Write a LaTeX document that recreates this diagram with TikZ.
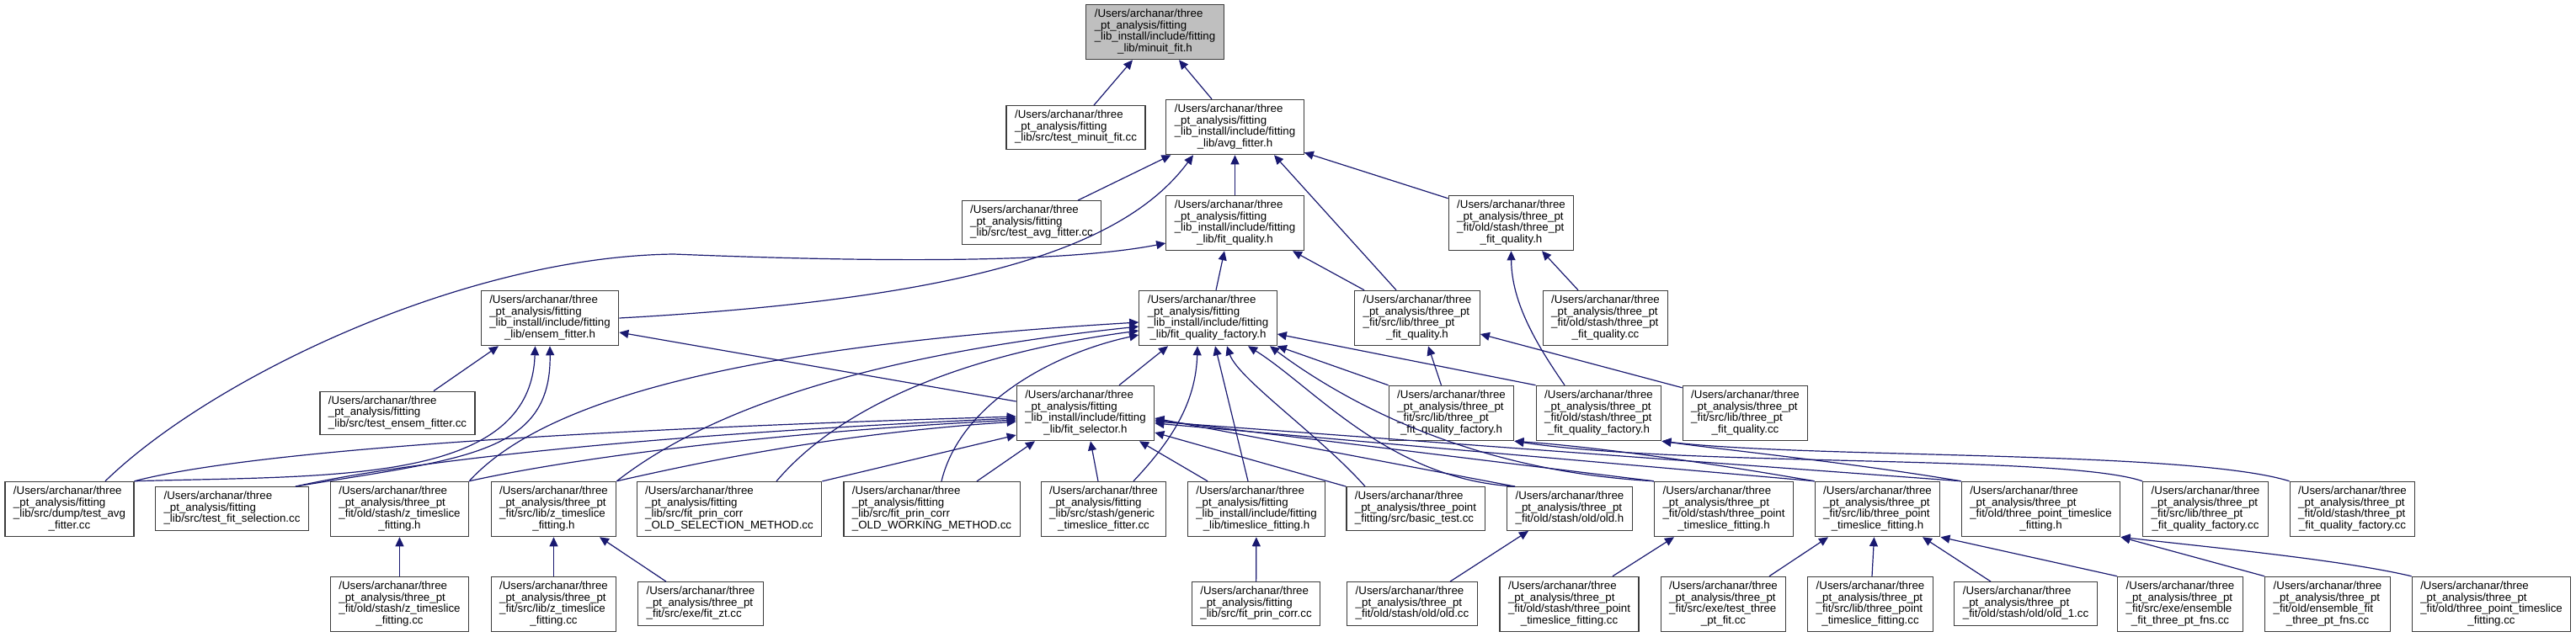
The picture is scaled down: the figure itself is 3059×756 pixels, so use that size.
\documentclass[tikz,border=0pt]{standalone}
\usepackage{fontspec}
\setmainfont{Liberation Sans}
\usetikzlibrary{arrows.meta}
\definecolor{depblue}{HTML}{191970}
\definecolor{boxgrey}{HTML}{3C3C3C}
\definecolor{rootfill}{HTML}{BFBFBF}
\newcommand{\fpath}[1]{\begin{tabular}{@{}l@{}}#1\end{tabular}}
\newcommand{\lastline}[1]{\multicolumn{1}{@{}c@{}}{#1}}
\newcommand{\fitlib}{/Users/archanar/three\\\_pt\_analysis/fitting}
\newcommand{\threept}{/Users/archanar/three\\\_pt\_analysis/three\_pt}
\newcommand{\incl}{\_lib\_install/include/fitting}

\begin{document}
\begin{tikzpicture}[x=1pt, y=-1pt,
  file/.style={rectangle, draw=boxgrey, fill=white, line width=1.2pt,
    inner xsep=10pt, inner ysep=5.4pt, font=\fontsize{13.3}{13.3}\selectfont},
  focus/.style={file, fill=rootfill},
  dep/.style={-{Triangle[length=11pt, width=10pt]}, line width=1.2pt, draw=depblue}
]
\useasboundingbox (0,0) rectangle (3059,756);

% header and fitting library
\node[focus] (root) at (1371.5,38) {\fpath{\fitlib\\\incl\\\lastline{\_lib/minuit\_fit.h}}};
\node[file] (TMF) at (1277.5,151.5) {\fpath{\fitlib\\\_lib/src/test\_minuit\_fit.cc}};
\node[file] (AF) at (1466.5,151) {\fpath{\fitlib\\\incl\\\lastline{\_lib/avg\_fitter.h}}};
\node[file] (TAF) at (1225,264.5) {\fpath{\fitlib\\\_lib/src/test\_avg\_fitter.cc}};
\node[file] (FQ) at (1466.5,265) {\fpath{\fitlib\\\incl\\\lastline{\_lib/fit\_quality.h}}};
\node[file] (OSFQ) at (1794.5,265) {\fpath{\threept\\\_fit/old/stash/three\_pt\\\lastline{\_fit\_quality.h}}};
\node[file] (EF) at (653,378) {\fpath{\fitlib\\\incl\\\lastline{\_lib/ensem\_fitter.h}}};
\node[file] (FQF) at (1434.5,378) {\fpath{\fitlib\\\incl\\\lastline{\_lib/fit\_quality\_factory.h}}};
\node[file] (SFQ) at (1683,378) {\fpath{\threept\\\_fit/src/lib/three\_pt\\\lastline{\_fit\_quality.h}}};
\node[file] (OSFQcc) at (1906.5,378) {\fpath{\threept\\\_fit/old/stash/three\_pt\\\lastline{\_fit\_quality.cc}}};
\node[file] (TEF) at (472,491) {\fpath{\fitlib\\\_lib/src/test\_ensem\_fitter.cc}};
\node[file] (FS) at (1289,491) {\fpath{\fitlib\\\incl\\\lastline{\_lib/fit\_selector.h}}};
\node[file] (SFQF) at (1723.5,491) {\fpath{\threept\\\_fit/src/lib/three\_pt\\\lastline{\_fit\_quality\_factory.h}}};
\node[file] (OSFQF) at (1898.5,491) {\fpath{\threept\\\_fit/old/stash/three\_pt\\\lastline{\_fit\_quality\_factory.h}}};
\node[file] (SFQcc) at (2072.5,491) {\fpath{\threept\\\_fit/src/lib/three\_pt\\\lastline{\_fit\_quality.cc}}};

% second row from the bottom
\node[file] (D) at (82.5,605) {\fpath{\fitlib\\\_lib/src/dump/test\_avg\\\lastline{\_fitter.cc}}};
\node[file] (TFS) at (275.5,604.5) {\fpath{\fitlib\\\_lib/src/test\_fit\_selection.cc}};
\node[file] (OZ) at (474.5,605) {\fpath{\threept\\\_fit/old/stash/z\_timeslice\\\lastline{\_fitting.h}}};
\node[file] (SZ) at (657.5,605) {\fpath{\threept\\\_fit/src/lib/z\_timeslice\\\lastline{\_fitting.h}}};
\node[file] (OS) at (866,605) {\fpath{\fitlib\\\_lib/src/fit\_prin\_corr\\\lastline{\_OLD\_SELECTION\_METHOD.cc}}};
\node[file] (OW) at (1106.5,605) {\fpath{\fitlib\\\_lib/src/fit\_prin\_corr\\\lastline{\_OLD\_WORKING\_METHOD.cc}}};
\node[file] (GT) at (1310.5,605) {\fpath{\fitlib\\\_lib/src/stash/generic\\\lastline{\_timeslice\_fitter.cc}}};
\node[file] (TF) at (1492,605) {\fpath{\fitlib\\\incl\\\lastline{\_lib/timeslice\_fitting.h}}};
\node[file] (BT) at (1681,604.5) {\fpath{/Users/archanar/three\\\_pt\_analysis/three\_point\\\_fitting/src/basic\_test.cc}};
\node[file] (OH) at (1864,604.5) {\fpath{\threept\\\_fit/old/stash/old/old.h}};
\node[file] (OTP) at (2047,605) {\fpath{\threept\\\_fit/old/stash/three\_point\\\lastline{\_timeslice\_fitting.h}}};
\node[file] (STP) at (2229.5,605) {\fpath{\threept\\\_fit/src/lib/three\_point\\\lastline{\_timeslice\_fitting.h}}};
\node[file] (O3P) at (2423.5,605) {\fpath{\threept\\\_fit/old/three\_point\_timeslice\\\lastline{\_fitting.h}}};
\node[file] (SFQFcc) at (2619,605) {\fpath{\threept\\\_fit/src/lib/three\_pt\\\lastline{\_fit\_quality\_factory.cc}}};
\node[file] (OFQFcc) at (2793.5,605) {\fpath{\threept\\\_fit/old/stash/three\_pt\\\lastline{\_fit\_quality\_factory.cc}}};

% bottom row
\node[file] (OZcc) at (474.5,718) {\fpath{\threept\\\_fit/old/stash/z\_timeslice\\\lastline{\_fitting.cc}}};
\node[file] (SZcc) at (657.5,718) {\fpath{\threept\\\_fit/src/lib/z\_timeslice\\\lastline{\_fitting.cc}}};
\node[file] (FZT) at (832,717.5) {\fpath{\threept\\\_fit/src/exe/fit\_zt.cc}};
\node[file] (FPC) at (1491.5,717.5) {\fpath{\fitlib\\\_lib/src/fit\_prin\_corr.cc}};
\node[file] (OLDcc) at (1677,717.5) {\fpath{\threept\\\_fit/old/stash/old/old.cc}};
\node[file] (OTPcc) at (1863.5,718) {\fpath{\threept\\\_fit/old/stash/three\_point\\\lastline{\_timeslice\_fitting.cc}}};
\node[file] (TTP) at (2046.5,718) {\fpath{\threept\\\_fit/src/exe/test\_three\\\lastline{\_pt\_fit.cc}}};
\node[file] (STPcc) at (2221,718) {\fpath{\threept\\\_fit/src/lib/three\_point\\\lastline{\_timeslice\_fitting.cc}}};
\node[file] (OLD1) at (2405.5,717.5) {\fpath{\threept\\\_fit/old/stash/old/old\_1.cc}};
\node[file] (EFS) at (2589,718) {\fpath{\threept\\\_fit/src/exe/ensemble\\\lastline{\_fit\_three\_pt\_fns.cc}}};
\node[file] (EFO) at (2764,718) {\fpath{\threept\\\_fit/old/ensemble\_fit\\\lastline{\_three\_pt\_fns.cc}}};
\node[file] (O3Pcc) at (2958.5,718) {\fpath{\threept\\\_fit/old/three\_point\_timeslice\\\lastline{\_fitting.cc}}};

% includes, pointing at the included header
\draw[dep] ([xshift=21.5]TMF.north) -- ([xshift=-26.5]root.south);
\draw[dep] ([xshift=-27.5]AF.north) -- ([xshift=28.5]root.south);
\draw[dep] ([xshift=55]TAF.north) -- ([xshift=-76]AF.south);
\draw[dep] (EF.east) .. controls (1150,355) and (1335,295) .. ([xshift=-49.5]AF.south);
\draw[dep] (FQ) -- (AF);
\draw[dep] ([xshift=-25]SFQ.north) -- ([xshift=46.5]AF.south);
\draw[dep] ([yshift=-4]OSFQ.north west) -- ([yshift=3]AF.south east);
\draw[dep] ([xshift=42.5]D.north) .. controls (250,450) and (550,305) .. (800,302)
  .. controls (1000,310) and (1250,315) .. ([yshift=-24]FQ.west);
\draw[dep] ([xshift=9.5]FQF.north) -- ([xshift=-12.5]FQ.south);
\draw[dep] ([xshift=-63]SFQ.north) -- ([xshift=68.5]FQ.south);
\draw[dep] ([xshift=43]TEF.north) -- ([xshift=-61]EF.south);
\draw[dep] (D.north east) .. controls (400,565) and (630,575) .. ([xshift=-17.5]EF.south);
\draw[dep] ([xshift=-16]TFS.north east) .. controls (550,545) and (655,540) .. (EF.south);
\draw[dep] ([yshift=14]FS.west) -- ([yshift=-17]EF.east);
\draw[dep] ([xshift=-12]SFQF.north) -- ([xshift=13]SFQ.south);
\draw[dep] ([yshift=-3]SFQcc.north west) -- ([yshift=-19]SFQ.east);
\draw[dep] ([xshift=-32.5]OSFQcc.north) -- ([xshift=36.5]OSFQ.south);
\draw[dep] ([xshift=-40.5]OSFQF.north) .. controls (1825,410) and (1795,360) .. (OSFQ.south);

\draw[dep] ([xshift=40]FS.north) -- ([xshift=-47.5]FQF.south);
\draw[dep] (SFQF.north west) -- (FQF.south east);
\draw[dep] (OSFQF.north west) -- ([yshift=-19]FQF.east);
\draw[dep] ([xshift=35.5]GT.north) .. controls (1390,525) and (1420,480) .. ([xshift=-12.5]FQF.south);
\draw[dep] ([xshift=-10]TF.north) -- ([xshift=8.5]FQF.south);
\draw[dep] ([xshift=-60]BT.north) .. controls (1570,520) and (1470,450) .. ([xshift=22.5]FQF.south);
\draw[dep] ([xshift=-65]OH.north) .. controls (1650,570) and (1560,460) .. ([xshift=47.5]FQF.south);
\draw[dep] (OTP.north west) .. controls (1750,560) and (1600,480) .. ([xshift=73.5]FQF.south);
\draw[dep] (OZ.north east) .. controls (650,470) and (900,410) .. ([yshift=-5]FQF.west);
\draw[dep] (SZ.north east) .. controls (850,480) and (1050,420) .. ([yshift=-10]FQF.west);
\draw[dep] ([xshift=56]OS.north) .. controls (1000,480) and (1150,420) .. ([yshift=-15]FQF.west);
\draw[dep] ([xshift=11.5]OW.north) .. controls (1140,480) and (1250,420) .. ([yshift=-20]FQF.west);

\draw[dep] (D.north east) .. controls (300,535) and (700,510) .. ([yshift=-4]FS.west);
\draw[dep] ([xshift=-16]TFS.north east) .. controls (500,545) and (800,515) .. ([yshift=-6]FS.west);
\draw[dep] (OZ.north east) .. controls (700,540) and (950,512) .. ([yshift=-8]FS.west);
\draw[dep] (SZ.north east) .. controls (850,545) and (1000,515) .. ([yshift=-10]FS.west);
\draw[dep] (OS.north east) -- ([yshift=-26]FS.west);
\draw[dep] ([xshift=53.5]OW.north) -- ([xshift=-60]FS.south);
\draw[dep] ([xshift=-6.5]GT.north) -- ([xshift=6]FS.south);
\draw[dep] ([xshift=-58]TF.north) -- ([xshift=64]FS.south);
\draw[dep] (BT.north west) -- ([yshift=-23]FS.east);
\draw[dep] ([xshift=-65]OH.north) -- ([yshift=-6]FS.east);
\draw[dep] (OTP.north west) -- ([yshift=-8]FS.east);
\draw[dep] (STP.north west) -- ([yshift=-12]FS.east);
\draw[dep] (O3P.north west) -- ([yshift=-10]FS.east);

\draw[dep] (STP.north west) .. controls (2000,545) and (1880,530) .. (SFQF.south east);
\draw[dep] (SFQFcc.north west) .. controls (2450,540) and (2000,555) .. (SFQF.south east);
\draw[dep] (O3P.north west) .. controls (2200,550) and (2050,535) .. (OSFQF.south east);
\draw[dep] (OFQFcc.north west) .. controls (2600,535) and (2150,545) .. (OSFQF.south east);

\draw[dep] (OZcc) -- (OZ);
\draw[dep] (SZcc) -- (SZ);
\draw[dep] ([xshift=-41]FZT.north) -- ([xshift=54.5]SZ.south);
\draw[dep] (FPC) -- (TF);
\draw[dep] ([xshift=45]OLDcc.north) -- ([xshift=-49]OH.south);
\draw[dep] ([xshift=51.5]OTPcc.north) -- ([xshift=-59]OTP.south);
\draw[dep] ([xshift=54.5]TTP.north) -- ([xshift=-58.5]STP.south);
\draw[dep] ([xshift=2]STPcc.north) -- ([xshift=-4]STP.south);
\draw[dep] ([xshift=-41.5]OLD1.north) -- ([xshift=53.5]STP.south);
\draw[dep] (EFS.north west) -- (STP.south east);
\draw[dep] (EFO.north west) -- (O3P.south east);
\draw[dep] (O3Pcc.north west) .. controls (2780,665) and (2620,650) .. (O3P.south east);
\end{tikzpicture}
\end{document}
